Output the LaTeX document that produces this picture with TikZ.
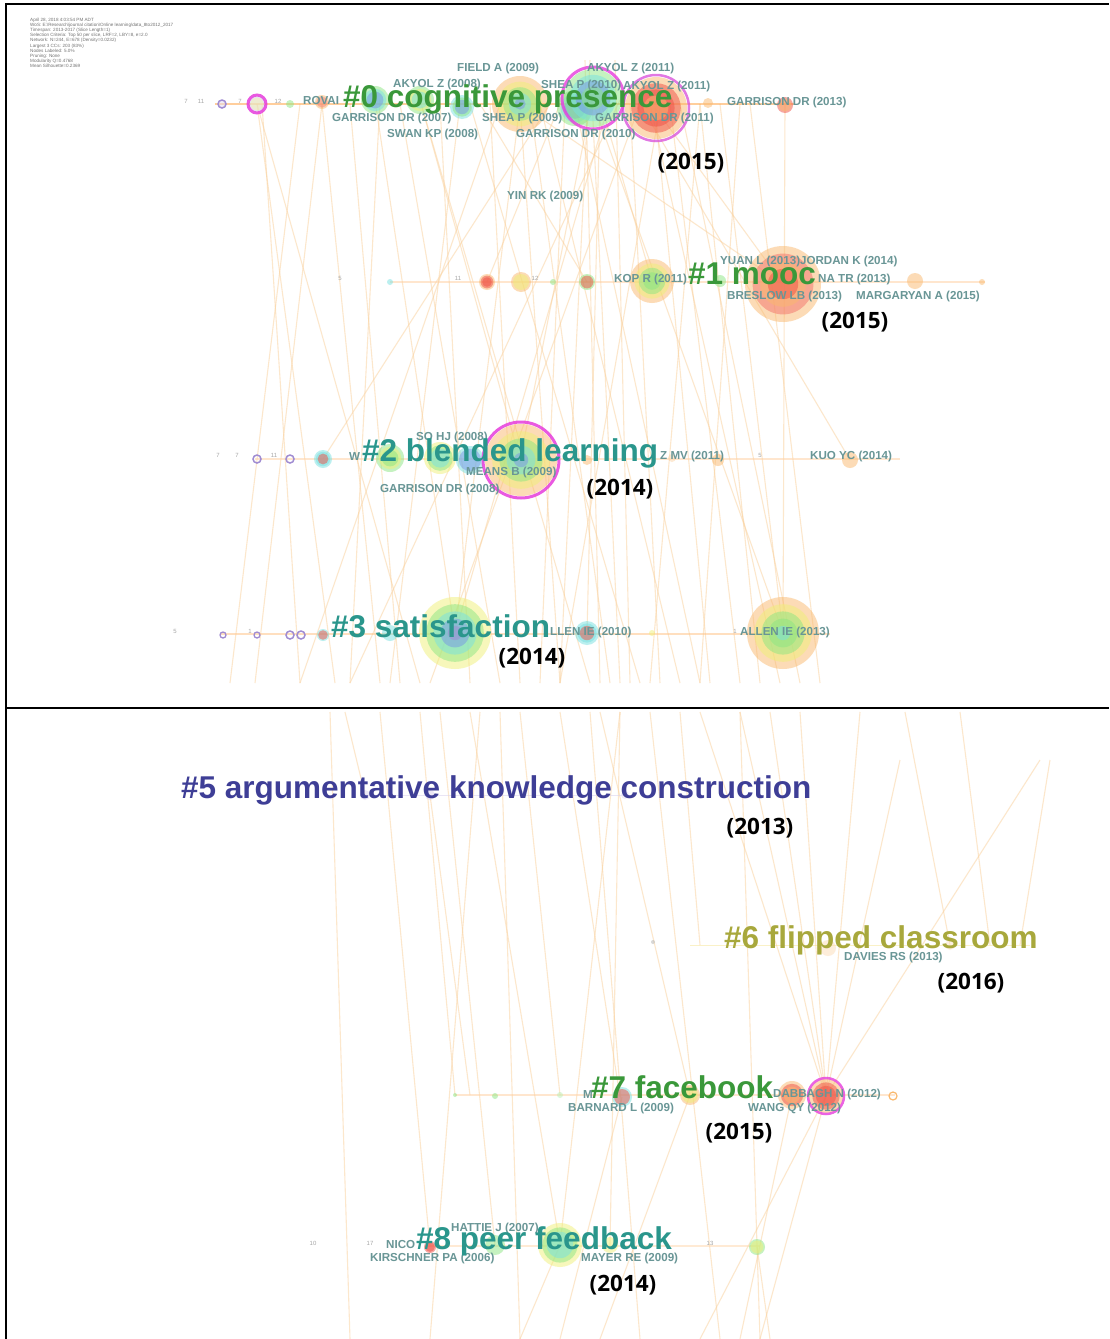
\documentclass[tikz,border=0pt]{standalone}
\usepackage{fontspec}
\setmainfont{Liberation Sans}
\newfontfamily\yearfont{Open Sans}
\definecolor{lgreen}{RGB}{58,152,58}
\definecolor{lteal}{RGB}{42,150,140}
\definecolor{lblue}{RGB}{62,62,150}
\definecolor{lolive}{RGB}{168,168,60}
\definecolor{auth}{RGB}{105,150,150}
\definecolor{linkc}{RGB}{250,208,155}
\definecolor{rp}{RGB}{160,140,210}
\definecolor{rb}{RGB}{120,150,230}
\definecolor{rc}{RGB}{120,225,225}
\definecolor{rgr}{RGB}{140,230,130}
\definecolor{ry}{RGB}{240,240,120}
\definecolor{ro}{RGB}{250,185,110}
\definecolor{rr}{RGB}{240,80,70}
\definecolor{rm}{RGB}{230,60,220}
\newcommand\cn[4]{%
  \coordinate (#1) at (#2);
  \foreach \cc [count=\ii] in {#4}{%
    \pgfmathsetmacro\rrad{#3*(1.2-0.2*\ii)}%
    \fill[\cc,fill opacity=.5] (#1) circle[radius=\rrad pt];}%
}
\newcommand\ringat[3]{\draw[#3] (#1) circle[radius=#2pt];}
\tikzset{
  clab/.style={font=\bfseries\fontsize{31.5}{36}\selectfont, inner sep=0pt, anchor=base west},
  ylab/.style={font={\yearfont\bfseries\fontsize{22.5}{26}\selectfont}, inner sep=0pt},
  alab/.style={font=\bfseries\fontsize{11.6}{13}\selectfont, text=auth, inner sep=0pt, anchor=west},
  numlab/.style={font=\fontsize{6}{7}\selectfont, text=black!35, inner sep=0pt},
  linkln/.style={draw=linkc, line width=1.1pt, opacity=.5},
  tline/.style={line width=2pt, opacity=.55},
  info/.style={font=\fontsize{4.6}{5.1}\selectfont, text=black!55, inner sep=0pt, anchor=north west, align=left}
}
\begin{document}
\begin{tikzpicture}[x=1pt,y=-1pt]
\useasboundingbox (0,0) rectangle (1109,1339);
\fill[white] (0,0) rectangle (1109,1339);

% ---------- links top panel
\begin{scope}
\clip (7,60) rectangle (1109,683);
\foreach \a/\b/\c/\d in {257/104/335/683,257/104/420/683,262/104/300/683,322/104/255/683,322/104/380/683,
375/100/455/633,380/100/350/683,420/100/520/460,420/100/590/683,460/104/390/683,470/104/640/683,
520/104/783/284,520/104/455/633,520/104/560/683,560/104/487/282,575/104/700/683,592/100/620/683,
592/100/783/633,592/100/520/460,600/100/652/281,610/100/455/633,620/100/350/683,640/104/850/460,
655/108/783/284,655/108/710/683,660/108/560/683,680/104/800/683,700/104/650/683,720/104/783/633,
785/105/783/633,500/104/300/683,540/104/680/683,600/104/587/633,640/104/430/683,550/104/323/459,
480/104/587/282,585/60/600/683,590/60/560/683,700/104/760/683,740/104/700/683,650/104/780/683,
440/104/470/683,490/104/520/683,530/104/610/683,565/104/540/683,630/104/660/683,670/104/740/683,
300/104/230/683,350/104/400/683,400/104/500/683,615/60/630/683,750/104/820/683}
  \draw[linkln] (\a,\b) -- (\c,\d);
\end{scope}
% ---------- links bottom panel
\begin{scope}
\clip (7,710) rectangle (1109,1339);
\foreach \a/\b/\c/\d in {345/712/365/795,380/712/430/1247,440/712/495/1245,470/712/560/1245,480/712/430/1339,
560/712/620/1097,600/712/690/1095,620/712/560/1245,650/712/720/1339,700/712/826/1096,740/712/826/1096,
770/712/826/1096,800/712/826/1096,860/712/826/1096,900/760/826/1096,1040/760/826/1096,1020/945/1050/760,
826/1096/760/1339,826/1096/700/1339,792/1095/740/1339,690/1095/600/1339,622/1097/560/1339,560/1245/520/1339,
757/1247/770/1339,620/712/610/1245,430/795/470/1095,520/712/560/1095,905/712/950/945,960/712/990/945,
680/712/700/945,740/712/760/1339,420/712/455/1095,330/712/350/1339,500/712/520/1339,590/712/640/1339}
  \draw[linkln] (\a,\b) -- (\c,\d);
\end{scope}

% ---------- info text
\node[info] (info) at (30,18) {April 28, 2018 4:03:54 PM ADT\\
WoS: E:\textbackslash Research\textbackslash journal citation\textbackslash Online learning\textbackslash data\_8to2012\_2017\\
Timespan: 2013-2017 (Slice Length=1)\\
Selection Criteria: Top 50 per slice, LRF=2, LBY=8, e=2.0\\
Network: N=244, E=678 (Density=0.0232)\\
Largest 3 CCs: 203 (83\%)\\
Nodes Labeled: 5.0\%\\
Pruning: None\\
Modularity Q=0.4768\\
Mean Silhouette=0.2369};

% ---------- timelines
\draw[tline, draw=orange!70] (215,104) -- (795,104);
\draw[tline, draw=orange!35, line width=1.5pt] (390,282) -- (985,282);
\draw[tline, draw=orange!35, line width=1.5pt] (255,459) -- (900,459);
\draw[tline, draw=orange!45, line width=1.5pt] (220,634) -- (830,634);
\draw[tline, draw=rp!40, line width=1pt] (360,795) -- (630,795);
\draw[tline, draw=ry!80!orange, line width=1pt, opacity=.35] (690,945) -- (1030,945);
\draw[tline, draw=orange!35, line width=1.2pt] (455,1095) -- (895,1095);
\draw[tline, draw=orange!30, line width=1.2pt] (425,1246) -- (760,1246);

% ---------- small numbers
\node[numlab] (t1) at (186,101) {7};
\node[numlab] (t2) at (201,101) {11};
\node[numlab] (t3) at (240,101) {7};
\node[numlab] (t4) at (278,101) {12};
\node[numlab] (t5) at (340,278) {5};
\node[numlab] (t6) at (458,278) {11};
\node[numlab] (t7) at (535,278) {12};
\node[numlab] (t8) at (218,455) {7};
\node[numlab] (t9) at (237,455) {7};
\node[numlab] (t10) at (274,455) {11};
\node[numlab] (t11) at (760,455) {5};
\node[numlab] (t12) at (175,631) {5};
\node[numlab] (t13) at (250,631) {1};
\node[numlab] (t14) at (735,631) {1};
\node[numlab] (t15) at (313,1243) {10};
\node[numlab] (t16) at (370,1243) {17};
\node[numlab] (t17) at (710,1243) {13};

% ---------- cluster 0 nodes
\cn{a1}{222,104}{4}{rp!30};
\ringat{a1}{4}{rp, line width=1.5pt}
\cn{a2}{257,104}{8}{rp!50,ry!60};
\ringat{a2}{9}{rm, line width=3pt, opacity=.85}
\cn{a3}{290,104}{4}{rgr};
\cn{a4}{322,102}{7}{ro,rr!70};
\cn{a5}{375,100}{14}{rgr,rc,rb};
\cn{a6}{420,100}{14}{rgr,ry,rc};
\cn{a7}{462,107}{12}{rc,rgr,rb};
\cn{a8}{520,104}{28}{ro,ry,rgr,rc,rb};
\cn{a9}{575,108}{18}{rgr,rc,rb};
\cn{a10}{593,98}{29}{rgr,rc,rb,rgr};
\ringat{a10}{31}{rm, line width=3pt, opacity=.8}
\cn{a11}{656,108}{31}{ro,rr,rr,ro};
\ringat{a11}{33}{rm!80!rp, line width=2.5pt, opacity=.75}
\cn{a12}{708,103}{5}{ro};
\cn{a13}{785,105}{8}{rr,ro};

% ---------- cluster 1 nodes
\cn{b1}{390,282}{3}{rc};
\cn{b2}{487,282}{8}{ro,rr,rr};
\cn{b3}{521,282}{10}{ro,ry};
\cn{b4}{553,282}{3}{rgr};
\cn{b5}{587,282}{8}{rgr,rr};
\cn{b6}{652,281}{22}{ro,ry,rgr,rgr};
\cn{b7}{720,281}{6}{rgr};
\cn{b8}{783,284}{38}{ro,rr!80,ro,rr};
\cn{b9}{915,281}{8}{ro};
\cn{b10}{982,282}{3}{ro};

% ---------- cluster 2 nodes
\ringat{257,459}{4}{rp, line width=1.5pt}
\ringat{290,459}{4}{rp, line width=1.5pt}
\cn{c3}{323,459}{9}{rc,rc,rr};
\cn{c4}{390,458}{14}{rgr,ry,rgr};
\cn{c5}{440,458}{16}{ry,rgr,rc};
\cn{c6}{470,460}{14}{rc,rb};
\cn{c7}{521,460}{36}{ro,ry,rgr,rc,rb};
\ringat{c7}{38}{rm, line width=3pt, opacity=.85}
\cn{c8}{587,460}{5}{ro};
\cn{c9}{672,458}{4}{ro!60};
\cn{c10}{718,460}{6}{ro};
\cn{c11}{850,460}{8}{ro};

% ---------- cluster 3 nodes
\ringat{223,635}{3}{rp, line width=1.3pt}
\ringat{257,635}{3}{rp, line width=1.3pt}
\ringat{290,635}{4}{rp, line width=1.5pt}
\ringat{301,635}{4}{rp, line width=1.5pt}
\cn{d5}{323,635}{6}{rc,rr};
\cn{d6}{390,633}{8}{rc};
\cn{d7}{455,633}{36}{ry,rgr,rc,rb,rp};
\cn{d8}{587,633}{12}{rc,rc,rr};
\cn{d9}{652,633}{3}{ry};
\cn{d10}{783,633}{36}{ro,ry,rgr,rgr,rc};

% ---------- cluster 5 nodes
\cn{e1}{365,795}{5}{rp!40};
\cn{e2}{430,795}{5}{rp!40};
\cn{e3}{625,795}{4}{rp!30};
% ---------- cluster 6 nodes
\cn{f1}{653,942}{2}{black!30};
\cn{f2}{828,948}{8}{ro!50};
\cn{f3}{950,945}{5}{ro!40};
% ---------- cluster 7 nodes
\cn{g1}{455,1095}{2}{rgr};
\cn{g2}{495,1096}{3}{rgr};
\cn{g3}{560,1095}{3}{rgr!60};
\cn{g4}{622,1097}{10}{rc,rr};
\cn{g5}{690,1095}{10}{ro,ry};
\cn{g6}{792,1095}{14}{ro,rr,ro};
\cn{g7}{826,1096}{17}{ro,rr,rr};
\ringat{g7}{18}{rm, line width=2.5pt, opacity=.8}
\ringat{893,1096}{4}{ro, line width=1.2pt}
% ---------- cluster 8 nodes
\cn{h1}{430,1247}{6}{rr,rr};
\cn{h2}{495,1245}{10}{rgr};
\cn{h3}{560,1245}{22}{ry,rgr,rc};
\cn{h4}{610,1245}{8}{ry};
\cn{h5}{757,1247}{8}{rgr,ry};

% ---------- author labels
\node[alab] (l01) at (457,68) {FIELD A (2009)};
\node[alab] (l02) at (587,68) {AKYOL Z (2011)};
\node[alab] (l03) at (393,84) {AKYOL Z (2008)};
\node[alab] (l04) at (541,85) {SHEA P (2010)};
\node[alab] (l05) at (623,86) {AKYOL Z (2011)};
\node[alab] (l06) at (303,101) {ROVAI};
\node[alab] (l07) at (727,102) {GARRISON DR (2013)};
\node[alab] (l08) at (332,118) {GARRISON DR (2007)};
\node[alab] (l09) at (482,118) {SHEA P (2009)};
\node[alab] (l10) at (595,118) {GARRISON DR (2011)};
\node[alab] (l11) at (387,134) {SWAN KP (2008)};
\node[alab] (l12) at (516,134) {GARRISON DR (2010)};
\node[alab] (l13) at (507,196) {YIN RK (2009)};
\node[alab] (l14) at (720,261) {YUAN L (2013)JORDAN K (2014)};
\node[alab] (l15) at (614,279) {KOP R (2011)};
\node[alab] (l16) at (818,279) {NA TR (2013)};
\node[alab] (l17) at (727,296) {BRESLOW LB (2013)};
\node[alab] (l18) at (856,296) {MARGARYAN A (2015)};
\node[alab] (l19) at (416,437) {SO HJ (2008)};
\node[alab] (l20) at (349,457) {W};
\node[alab] (l21) at (660,456) {Z MV (2011)};
\node[alab] (l22) at (810,456) {KUO YC (2014)};
\node[alab] (l23) at (466,472) {MEANS B (2009)};
\node[alab] (l24) at (380,489) {GARRISON DR (2008)};
\node[alab] (l25) at (550,632) {LLEN IE (2010)};
\node[alab] (l26) at (740,632) {ALLEN IE (2013)};
\node[alab] (l27) at (844,957) {DAVIES RS (2013)};
\node[alab] (l28) at (583,1094) {M};
\node[alab] (l29) at (773,1094) {DABBAGH N (2012)};
\node[alab] (l30) at (568,1108) {BARNARD L (2009)};
\node[alab] (l31) at (748,1108) {WANG QY (2012)};
\node[alab] (l32) at (451,1228) {HATTIE J (2007)};
\node[alab] (l33) at (386,1244) {NICO};
\node[alab] (l34) at (370,1258) {KIRSCHNER PA (2006)};
\node[alab] (l35) at (581,1258) {MAYER RE (2009)};

% ---------- cluster labels
\node[clab, text=lgreen] (k0) at (343,107.5) {\#0 cognitive presence};
\node[clab, text=lgreen] (k1) at (688,284) {\#1 mooc};
\node[clab, text=lteal] (k2) at (362,461) {\#2 blended learning};
\node[clab, text=lteal] (k3) at (331,637) {\#3 satisfaction};
\node[clab, text=lblue] (k5) at (181,798) {\#5 argumentative knowledge construction};
\node[clab, text=lolive] (k6) at (724,948) {\#6 flipped classroom};
\node[clab, text=lgreen] (k7) at (591,1098) {\#7 facebook};
\node[clab, text=lteal] (k8) at (416,1249) {\#8 peer feedback};

% ---------- year labels
\node[ylab] (y0) at (691,163) {(2015)};
\node[ylab] (y1) at (855,322) {(2015)};
\node[ylab] (y2) at (620,489) {(2014)};
\node[ylab] (y3) at (532,658) {(2014)};
\node[ylab] (y5) at (760,828) {(2013)};
\node[ylab] (y6) at (971,983) {(2016)};
\node[ylab] (y7) at (739,1133) {(2015)};
\node[ylab] (y8) at (623,1285) {(2014)};

% ---------- frame
\coordinate (fa) at (6,1339);
\coordinate (fb) at (6,4);
\coordinate (fc) at (1109,4);
\coordinate (fd) at (6,708);
\coordinate (fe) at (1109,708);
\draw[line width=2pt] (fa) -- (fb) -- (fc);
\draw[line width=2pt] (fd) -- (fe);
\end{tikzpicture}
\end{document}
